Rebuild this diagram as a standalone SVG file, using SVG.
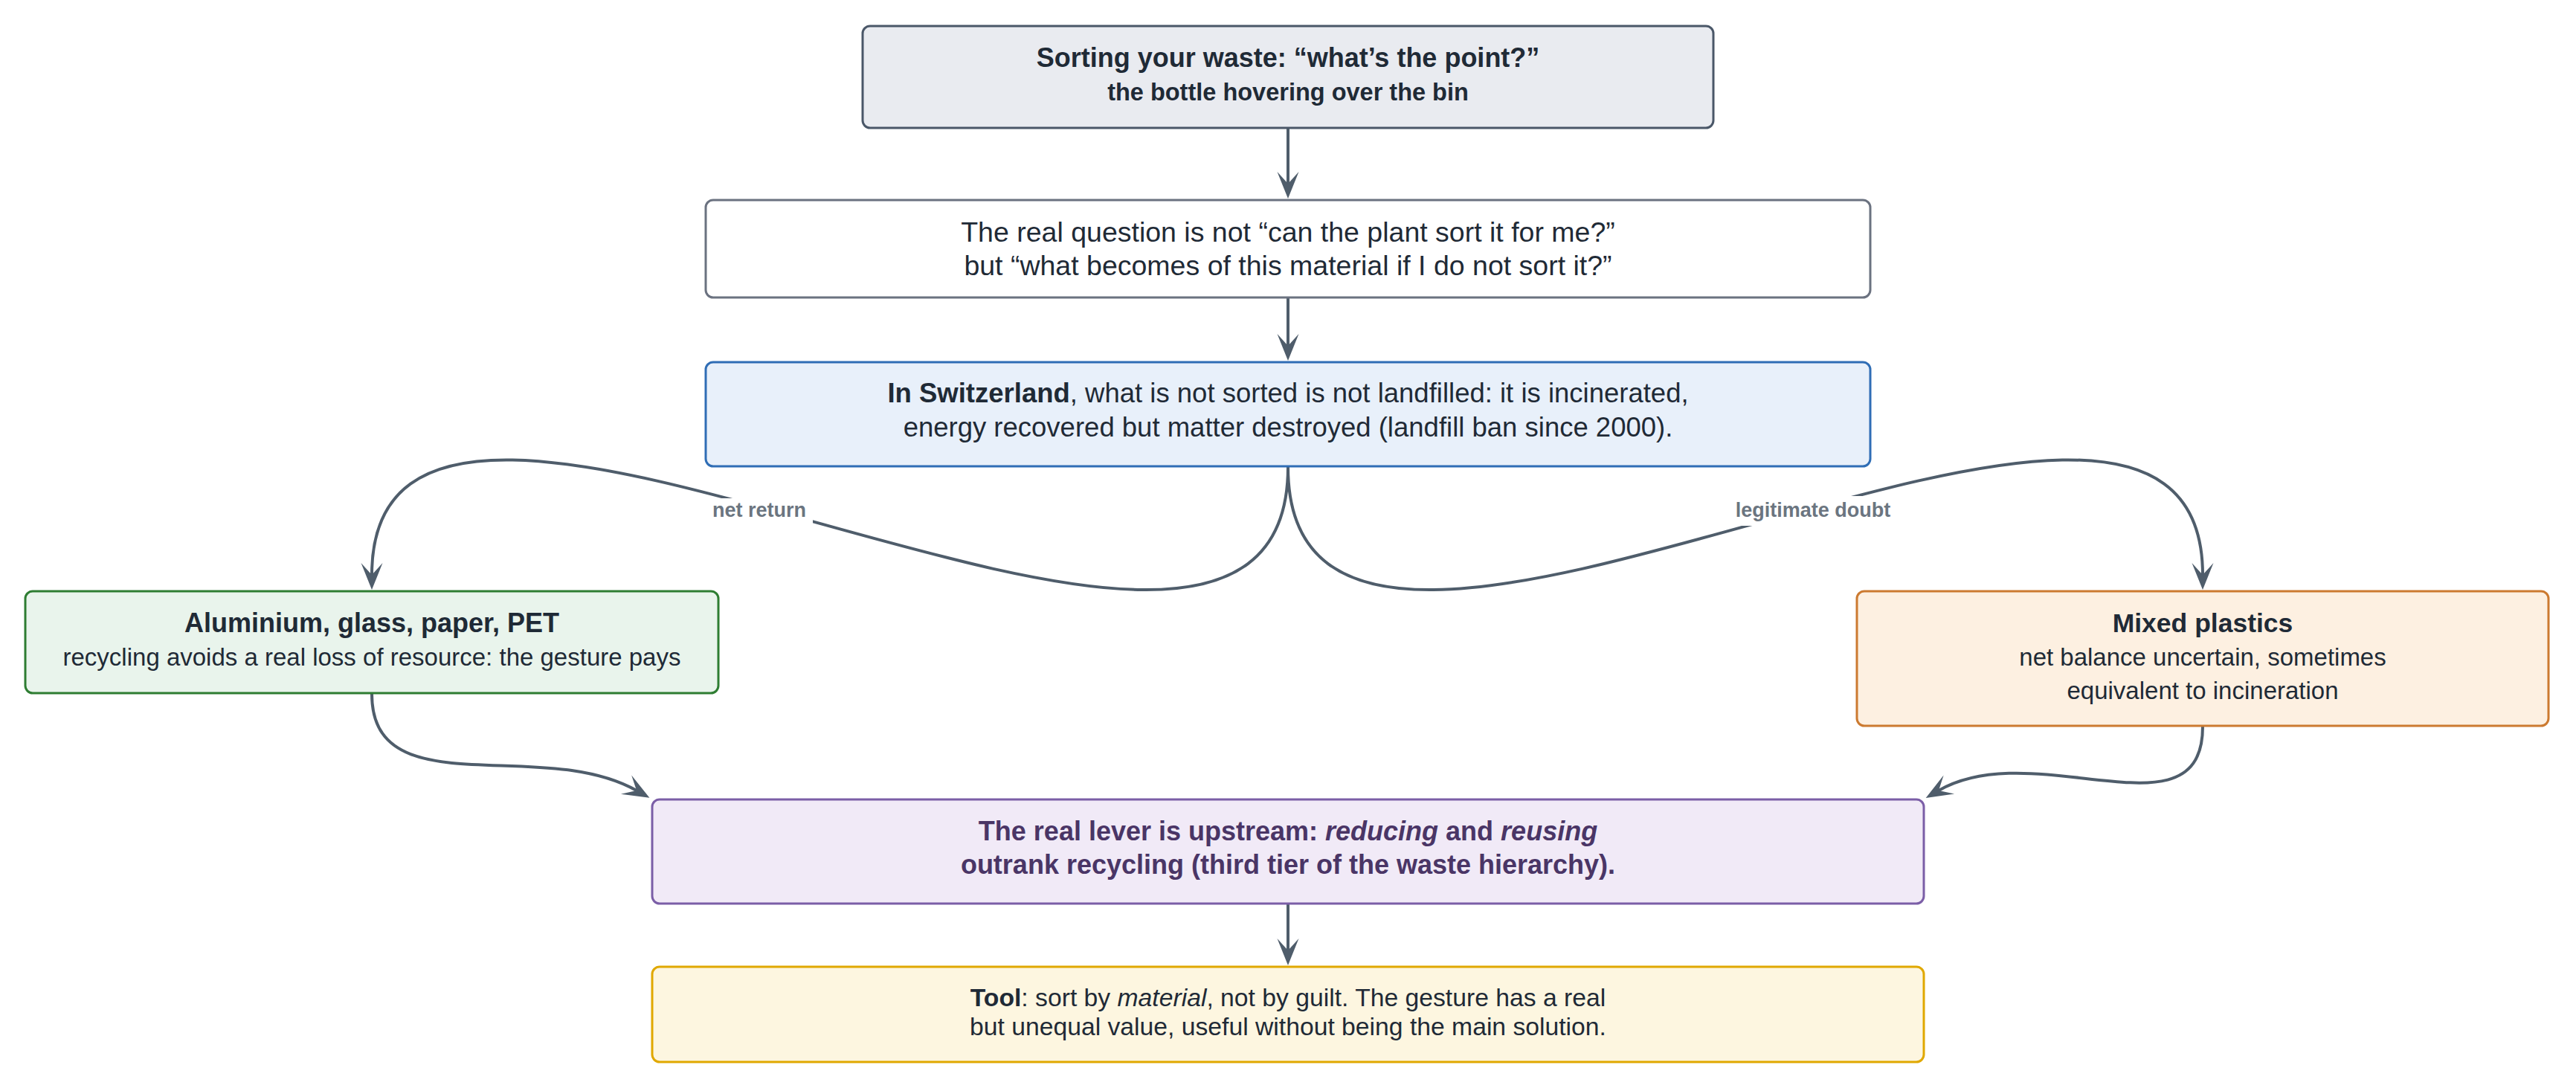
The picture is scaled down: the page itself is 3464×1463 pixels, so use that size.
<svg xmlns="http://www.w3.org/2000/svg" width="3464" height="1463" viewBox="0 0 3464 1463">
<style>
  text { font-family: "Liberation Sans", Arial, sans-serif; fill: #1f2a36; text-anchor: middle; stroke: none; }
  .box { stroke-width: 3; }
  .b { font-weight: bold; }
  .lbl { font-weight: bold; fill: #6b7580; font-size: 27px; stroke: none; }
  .lblbg { fill: #ffffff; stroke: none; }
  .edge { fill: none; stroke: #4f5d6b; stroke-width: 4; }
</style>
<defs>
  <marker id="arr" markerUnits="userSpaceOnUse" markerWidth="40" markerHeight="32" refX="16" refY="16" orient="auto">
    <path d="M0,1.5 L36,16 L0,30.5 L16,16 Z" fill="#4f5d6b" stroke="none"/>
  </marker>
</defs>
<rect width="3464" height="1463" fill="#ffffff"/>

<g id="connectors">
  <path class="edge" d="M1732,173 L1732,247" marker-end="url(#arr)"/>
  <path class="edge" d="M1732,401 L1732,465" marker-end="url(#arr)"/>
  <path class="edge" d="M1732,628 C1732,1125 500,295 500,773" marker-end="url(#arr)"/>
  <path class="edge" d="M1732,628 C1732,1125 2962,295 2962,773" marker-end="url(#arr)"/>
  <path class="edge" d="M500,933 C500,1085 727,990 856,1063" marker-end="url(#arr)"/>
  <path class="edge" d="M2962,977 C2962,1132 2737,988 2607,1063" marker-end="url(#arr)"/>
  <path class="edge" d="M1732,1216 L1732,1278" marker-end="url(#arr)"/>
  <g id="label-net-return">
    <rect class="lblbg" x="951" y="670" width="142" height="36"/>
    <text class="lbl" x="1021" y="695">net return</text>
  </g>
  <g id="label-legitimate-doubt">
    <rect class="lblbg" x="2326" y="667" width="224" height="40"/>
    <text class="lbl" x="2438" y="695">legitimate doubt</text>
  </g>
</g>

<g id="node-question">
  <rect class="box" x="1160" y="35" width="1144" height="137" rx="10" fill="#e9ebf0" stroke="#4a5768"/>
  <text class="b" x="1732" y="90" font-size="36">Sorting your waste: “what’s the point?”</text>
  <text class="b" x="1732" y="135" font-size="32.5">the bottle hovering over the bin</text>
</g>

<g id="node-real-question">
  <rect class="box" x="949" y="269" width="1566" height="131" rx="10" fill="#ffffff" stroke="#6b7280"/>
  <text x="1732" y="325" font-size="37.5">The real question is not “can the plant sort it for me?”</text>
  <text x="1732" y="370" font-size="37.5">but “what becomes of this material if I do not sort it?”</text>
</g>

<g id="node-switzerland">
  <rect class="box" x="949" y="487" width="1566" height="140" rx="10" fill="#e8f0fa" stroke="#2f6db5"/>
  <text x="1732" y="541" font-size="36.5"><tspan class="b">In Switzerland</tspan>, what is not sorted is not landfilled: it is incinerated,</text>
  <text x="1732" y="587" font-size="36.5">energy recovered but matter destroyed (landfill ban since 2000).</text>
</g>

<g id="node-aluminium">
  <rect class="box" x="34" y="795" width="932" height="137" rx="10" fill="#e9f4ec" stroke="#2e7d32"/>
  <text class="b" x="500" y="850" font-size="36">Aluminium, glass, paper, PET</text>
  <text x="500" y="895" font-size="33">recycling avoids a real loss of resource: the gesture pays</text>
</g>

<g id="node-mixed-plastics">
  <rect class="box" x="2497" y="795" width="930" height="181" rx="10" fill="#fdf0e1" stroke="#cc7a30"/>
  <text class="b" x="2962" y="850" font-size="35.5">Mixed plastics</text>
  <text x="2962" y="895" font-size="33">net balance uncertain, sometimes</text>
  <text x="2962" y="940" font-size="33">equivalent to incineration</text>
</g>

<g id="node-upstream">
  <rect class="box" x="877" y="1075" width="1710" height="140" rx="10" fill="#f1eaf7" stroke="#7b5ea7"/>
  <text class="b" x="1732" y="1130" font-size="36" style="fill:#4a3566">The real lever is upstream: <tspan font-style="italic">reducing</tspan> and <tspan font-style="italic">reusing</tspan></text>
  <text class="b" x="1732" y="1175" font-size="36" style="fill:#4a3566">outrank recycling (third tier of the waste hierarchy).</text>
</g>

<g id="node-tool">
  <rect class="box" x="877" y="1300" width="1710" height="128" rx="10" fill="#fdf6e0" stroke="#e0a800"/>
  <text x="1732" y="1353" font-size="33.7"><tspan class="b">Tool</tspan>: sort by <tspan font-style="italic">material</tspan>, not by guilt. The gesture has a real</text>
  <text x="1732" y="1392" font-size="33.7">but unequal value, useful without being the main solution.</text>
</g>
</svg>
